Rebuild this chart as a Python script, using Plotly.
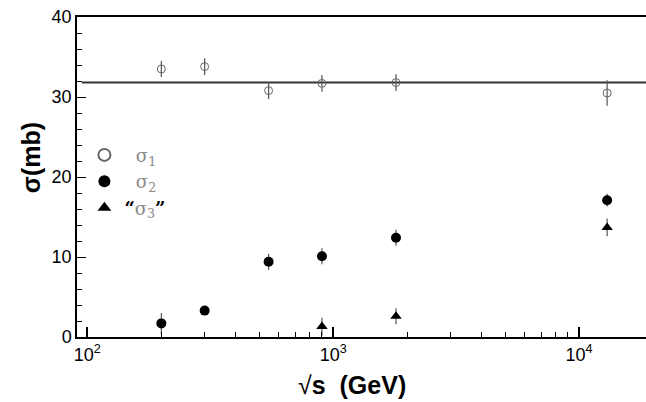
import plotly.graph_objects as go

# ---- data ----
energy = [200, 300, 546, 900, 1800, 13000]
sigma1 = [33.5, 33.8, 30.8, 31.7, 31.8, 30.5]
sigma1_err = [1.0, 1.05, 1.05, 1.05, 1.05, 1.6]
sigma2 = [1.7, 3.3, 9.4, 10.1, 12.4, 17.1]
sigma2_err = [1.3, 0.5, 1.0, 1.0, 1.0, 0.8]
energy3 = [900, 1800, 13000]
sigma3 = [1.3, 2.6, 13.7]
sigma3_err = [1.1, 1.0, 1.1]
fit_x = [95, 25000]
fit_y = [31.8, 31.8]

xtick_vals = [100, 1000, 10000]
xtick_text = ["10<sup>2</sup>", "10<sup>3</sup>", "10<sup>4</sup>"]
xminor_vals = [m * d for d in (100, 1000, 10000) for m in range(2, 10)]
ytick_vals = [0, 10, 20, 30, 40]

FONT = "Liberation Sans, Arial, Helvetica, sans-serif"

fig = go.Figure()

fig.add_trace(go.Scatter(
    x=fit_x, y=fit_y, mode="lines", line=dict(color="#333333", width=2),
    showlegend=False, hoverinfo="skip"))

fig.add_trace(go.Scatter(
    x=energy, y=sigma1, mode="markers", name="  σ<sub>1</sub>",
    marker=dict(symbol="circle-open", size=8, color="#666666", line=dict(width=1)),
    error_y=dict(type="data", array=sigma1_err, width=0, thickness=1.2, color="#555555")))

fig.add_trace(go.Scatter(
    x=energy, y=sigma2, mode="markers", name="  σ<sub>2</sub>",
    marker=dict(symbol="circle", size=10, color="black"),
    error_y=dict(type="data", array=sigma2_err, width=0, thickness=1.2, color="#555555")))

fig.add_trace(go.Scatter(
    x=energy3, y=sigma3, mode="markers",
    name="<span style='color:black'><b>“</b></span>σ<sub>3</sub><span style='color:black'><b>”</b></span>",
    marker=dict(symbol="triangle-up", size=10, color="black"),
    error_y=dict(type="data", array=sigma3_err, width=0, thickness=1.2, color="#555555")))

fig.update_layout(
    width=646, height=402,
    margin=dict(l=77, r=0, t=17, b=65),
    paper_bgcolor="white", plot_bgcolor="white",
    font=dict(family=FONT, size=18, color="black"),
    showlegend=True,
    legend=dict(x=0.013, y=0.626, xanchor="left", yanchor="top",
                bgcolor="rgba(0,0,0,0)", itemsizing="constant",
                font=dict(family="DejaVu Serif, serif", size=18, color="#888888"),
                tracegroupgap=0),
)

fig.update_xaxes(
    type="log", range=[1.958, 4.272],
    tickvals=xtick_vals, ticktext=xtick_text,
    ticks="inside", ticklen=10, tickwidth=1.5, tickcolor="black",
    minor=dict(tickvals=xminor_vals, ticks="inside", ticklen=5, tickwidth=1, tickcolor="black"),
    showline=True, linecolor="black", linewidth=2, mirror=True,
    showgrid=False, zeroline=False,
    tickfont=dict(family=FONT, size=18),
)
fig.update_yaxes(
    range=[0, 40], tickvals=ytick_vals,
    ticks="inside", ticklen=9, tickwidth=1.2, tickcolor="black",
    minor=dict(dtick=2, ticks="inside", ticklen=5, tickwidth=1, tickcolor="black"),
    showline=True, linecolor="black", linewidth=1.5,
    showgrid=False, zeroline=False,
    tickfont=dict(family=FONT, size=18),
)

fig.add_annotation(text="<b>σ(mb)</b>", xref="paper", yref="paper",
                   x=-0.082, y=0.56, xanchor="center", yanchor="middle",
                   textangle=-90, showarrow=False,
                   font=dict(family=FONT, size=25, color="black"))
fig.add_annotation(text="√<b>s  (GeV)</b>", xref="paper", yref="paper",
                   x=0.484, y=-0.15, xanchor="center", yanchor="middle",
                   showarrow=False,
                   font=dict(family=FONT, size=25, color="black"))

fig.write_html("out.html")
